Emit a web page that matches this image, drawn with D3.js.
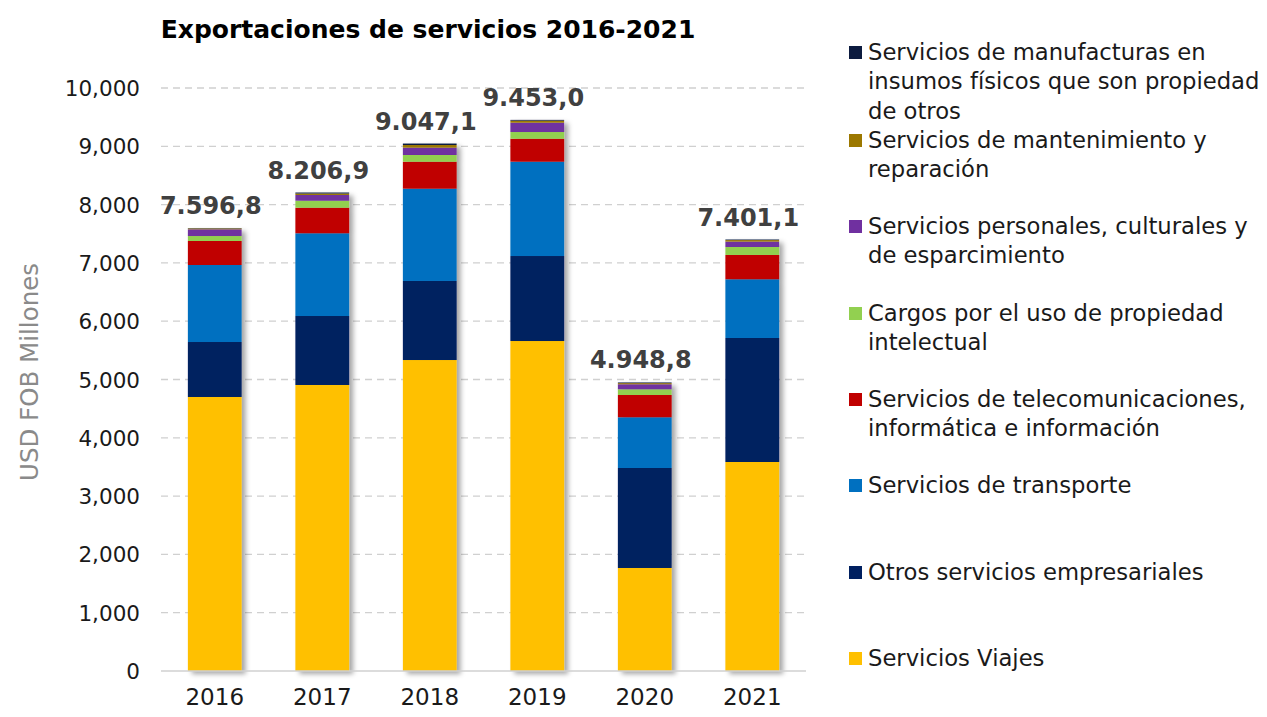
<!DOCTYPE html>
<html>
<head>
<meta charset="utf-8">
<script src="https://cdn.jsdelivr.net/npm/d3@7"></script>
<style>
  body { margin: 0; background: #fff; }
  text { font-family: "DejaVu Sans", sans-serif; }
</style>
</head>
<body>
<script>

var years = ["2016", "2017", "2018", "2019", "2020", "2021"];
var totals = ["7.596,8", "8.206,9", "9.047,1", "9.453,0", "4.948,8", "7.401,1"];

// series, bottom to top of the stack
var viajes       = [4700, 4906, 5334, 5660, 1767, 3585];
var empresariales = [943, 1183, 1356, 1458, 1715, 2127];
var transporte   = [1321, 1419, 1583, 1618, 870, 1007];
var telecom      = [412, 439, 463, 394, 382, 417];
var cargos       = [85, 120, 115, 115, 98, 137];
var personales   = [115, 98, 126, 160, 86, 92];
var mantenimiento = [15, 25, 45, 35, 20, 26];
var manufacturas = [6, 17, 25, 13, 11, 10];

var yTicks = [0, 1000, 2000, 3000, 4000, 5000, 6000, 7000, 8000, 9000, 10000];

var series = [
  {key: "viajes", name: ["Servicios Viajes"], color: "#ffc000", values: viajes},
  {key: "empresariales", name: ["Otros servicios empresariales"], color: "#002060", values: empresariales},
  {key: "transporte", name: ["Servicios de transporte"], color: "#0070c0", values: transporte},
  {key: "telecom", name: ["Servicios de telecomunicaciones,", "informática e información"], color: "#c00000", values: telecom},
  {key: "cargos", name: ["Cargos por el uso de propiedad", "intelectual"], color: "#92d050", values: cargos},
  {key: "personales", name: ["Servicios personales, culturales y", "de esparcimiento"], color: "#7030a0", values: personales},
  {key: "mantenimiento", name: ["Servicios de mantenimiento y", "reparación"], color: "#9c7800", values: mantenimiento},
  {key: "manufacturas", name: ["Servicios de manufacturas en", "insumos físicos que son propiedad", "de otros"], color: "#0c1b3f", values: manufacturas}
];

var width = 1267, height = 717;

var svg = d3.select("body").append("svg")
  .attr("width", width)
  .attr("height", height);

var defs = svg.append("defs");
var shadow = defs.append("filter").attr("id", "shadow")
  .attr("x", "-20%").attr("y", "-5%").attr("width", "150%").attr("height", "115%");
shadow.append("feDropShadow")
  .attr("dx", 4).attr("dy", 3).attr("stdDeviation", 2.5)
  .attr("flood-color", "#000").attr("flood-opacity", 0.35);

var x = d3.scaleBand().domain(years).range([161, 806]).paddingInner(0.5).paddingOuter(0.25);
var y = d3.scaleLinear().domain([0, 10000]).range([671, 88]);

// gridlines
svg.append("g").selectAll("line")
  .data(yTicks.filter(function(d) { return d > 0; }))
  .enter().append("line")
  .attr("x1", 161).attr("x2", 806)
  .attr("y1", function(d) { return y(d); })
  .attr("y2", function(d) { return y(d); })
  .attr("stroke", "#d0d0d0")
  .attr("stroke-width", 1.3)
  .attr("stroke-dasharray", "7,5");

var rows = years.map(function(yr, i) {
  var r = {year: yr};
  series.forEach(function(s) { r[s.key] = s.values[i]; });
  return r;
});

var stack = d3.stack().keys(series.map(function(s) { return s.key; }));
var stacked = stack(rows);

// one group per bar so the shadow wraps the whole column
var barG = svg.append("g").selectAll("g")
  .data(years)
  .enter().append("g")
  .attr("filter", "url(#shadow)");

barG.each(function(yr, i) {
  var g = d3.select(this);
  stacked.forEach(function(layer, k) {
    var d = layer[i];
    g.append("rect")
      .attr("x", x(yr))
      .attr("width", x.bandwidth())
      .attr("y", y(d[1]))
      .attr("height", Math.max(0, y(d[0]) - y(d[1])))
      .attr("fill", series[k].color);
  });
});

// baseline
svg.append("line")
  .attr("x1", 161).attr("x2", 806)
  .attr("y1", y(0)).attr("y2", y(0))
  .attr("stroke", "#d0d0d0").attr("stroke-width", 1.5);

// y axis
var yAxis = d3.axisLeft(y).tickValues(yTicks).tickSize(0).tickPadding(0)
  .tickFormat(d3.format(","));
var yg = svg.append("g").attr("transform", "translate(140,0)").call(yAxis);
yg.select(".domain").remove();
yg.selectAll("text").attr("font-size", 21.5).attr("fill", "#1a1a1a").attr("dy", "0.35em");

// x axis
var xAxis = d3.axisBottom(x).tickSize(0).tickPadding(0);
var xg = svg.append("g").attr("transform", "translate(0,689)").call(xAxis);
xg.select(".domain").remove();
xg.selectAll("text").attr("font-size", 23).attr("fill", "#1a1a1a").attr("dy", "0.71em");

// y title
svg.append("text")
  .attr("transform", "translate(38,372) rotate(-90)")
  .attr("text-anchor", "middle")
  .attr("font-size", 24.5)
  .attr("fill", "#8a8a8a")
  .text("USD FOB Millones");

// totals
var sums = rows.map(function(r) { return d3.sum(series, function(s) { return r[s.key]; }); });
svg.append("g").selectAll("text")
  .data(years)
  .enter().append("text")
  .attr("x", function(d) { return x(d) + x.bandwidth() / 2 - 4; })
  .attr("y", function(d, i) { return y(sums[i]) - 14; })
  .attr("text-anchor", "middle")
  .attr("font-size", 24)
  .attr("font-weight", "bold")
  .attr("fill", "#404040")
  .text(function(d, i) { return totals[i]; });

// title
svg.append("text")
  .attr("x", 428).attr("y", 38)
  .attr("text-anchor", "middle")
  .attr("font-size", 25)
  .attr("font-weight", "bold")
  .attr("fill", "#000")
  .text("Exportaciones de servicios 2016-2021");

// legend, top to bottom
var legendY = [52, 140, 226, 313, 399, 485, 572, 658];
var legendSeries = series.slice().reverse();
var lg = svg.append("g").selectAll("g")
  .data(legendSeries)
  .enter().append("g")
  .attr("transform", function(d, i) { return "translate(849," + legendY[i] + ")"; });

lg.append("rect")
  .attr("x", 0).attr("y", -6)
  .attr("width", 13).attr("height", 13)
  .attr("fill", function(d) { return d.color; });

lg.each(function(d) {
  var t = d3.select(this).append("text")
    .attr("x", 19).attr("y", 0)
    .attr("font-size", 22.7)
    .attr("fill", "#1a1a1a");
  d.name.forEach(function(line, j) {
    t.append("tspan").attr("x", 19).attr("y", j * 29.5).attr("dy", "0.35em").text(line);
  });
});

</script>
</body>
</html>
